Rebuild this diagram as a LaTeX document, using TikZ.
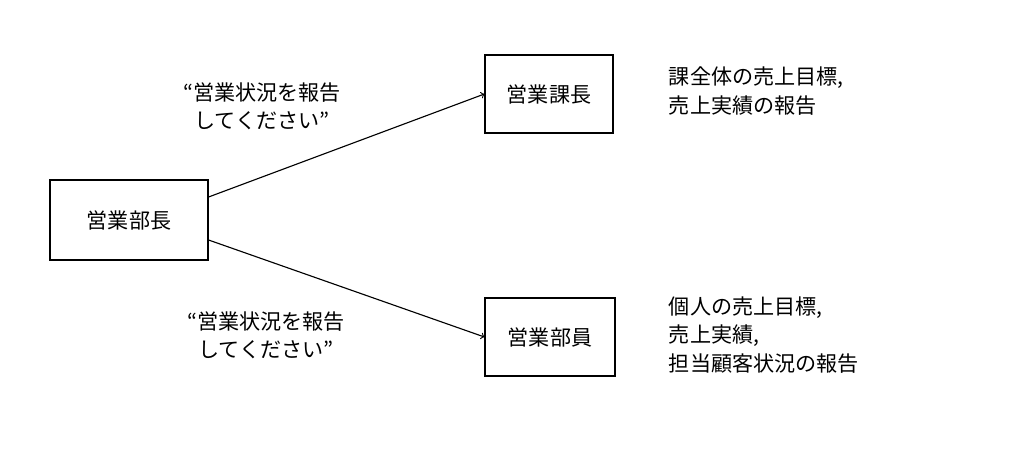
\documentclass[tikz,border=0pt]{standalone}
\usepackage{fontspec}
\setmainfont{Noto Sans CJK JP}
\usetikzlibrary{arrows,positioning}
\begin{document}
\begin{tikzpicture}[x=0.025cm,y=-0.025cm,font=\fontsize{15}{20}\selectfont,
    box/.style={draw,thick,minimum height=2cm,inner sep=0pt},
    note/.style={align=left,anchor=west},
    req/.style={align=center}]
  \useasboundingbox (0,0) rectangle (1010,460);
  % boxes
  \node [box,minimum width=3.95cm] (head) at (129,220) {営業部長};
  \node [box,minimum width=3.2cm,minimum height=1.95cm] (chief) at (549,94) {営業課長};
  \node [box,minimum width=3.25cm,minimum height=1.95cm] (staff) at (550,337) {営業部員};
  % requests
  \draw [thick,->,>=to] (head.east|-0,197) -- (chief.west);
  \draw [thick,->,>=to] (head.east|-0,240) -- (staff.west);
  \node [req] (req1) at (262,106) {“営業状況を報告\\してください”};
  \node [req] (req2) at (266,335) {“営業状況を報告\\してください”};
  % reports
  \node [note] (rep1) at (664,91) {課全体の売上目標,\\売上実績の報告};
  \node [note] (rep2) at (664,335) {個人の売上目標,\\売上実績,\\担当顧客状況の報告};
\end{tikzpicture}
\end{document}
